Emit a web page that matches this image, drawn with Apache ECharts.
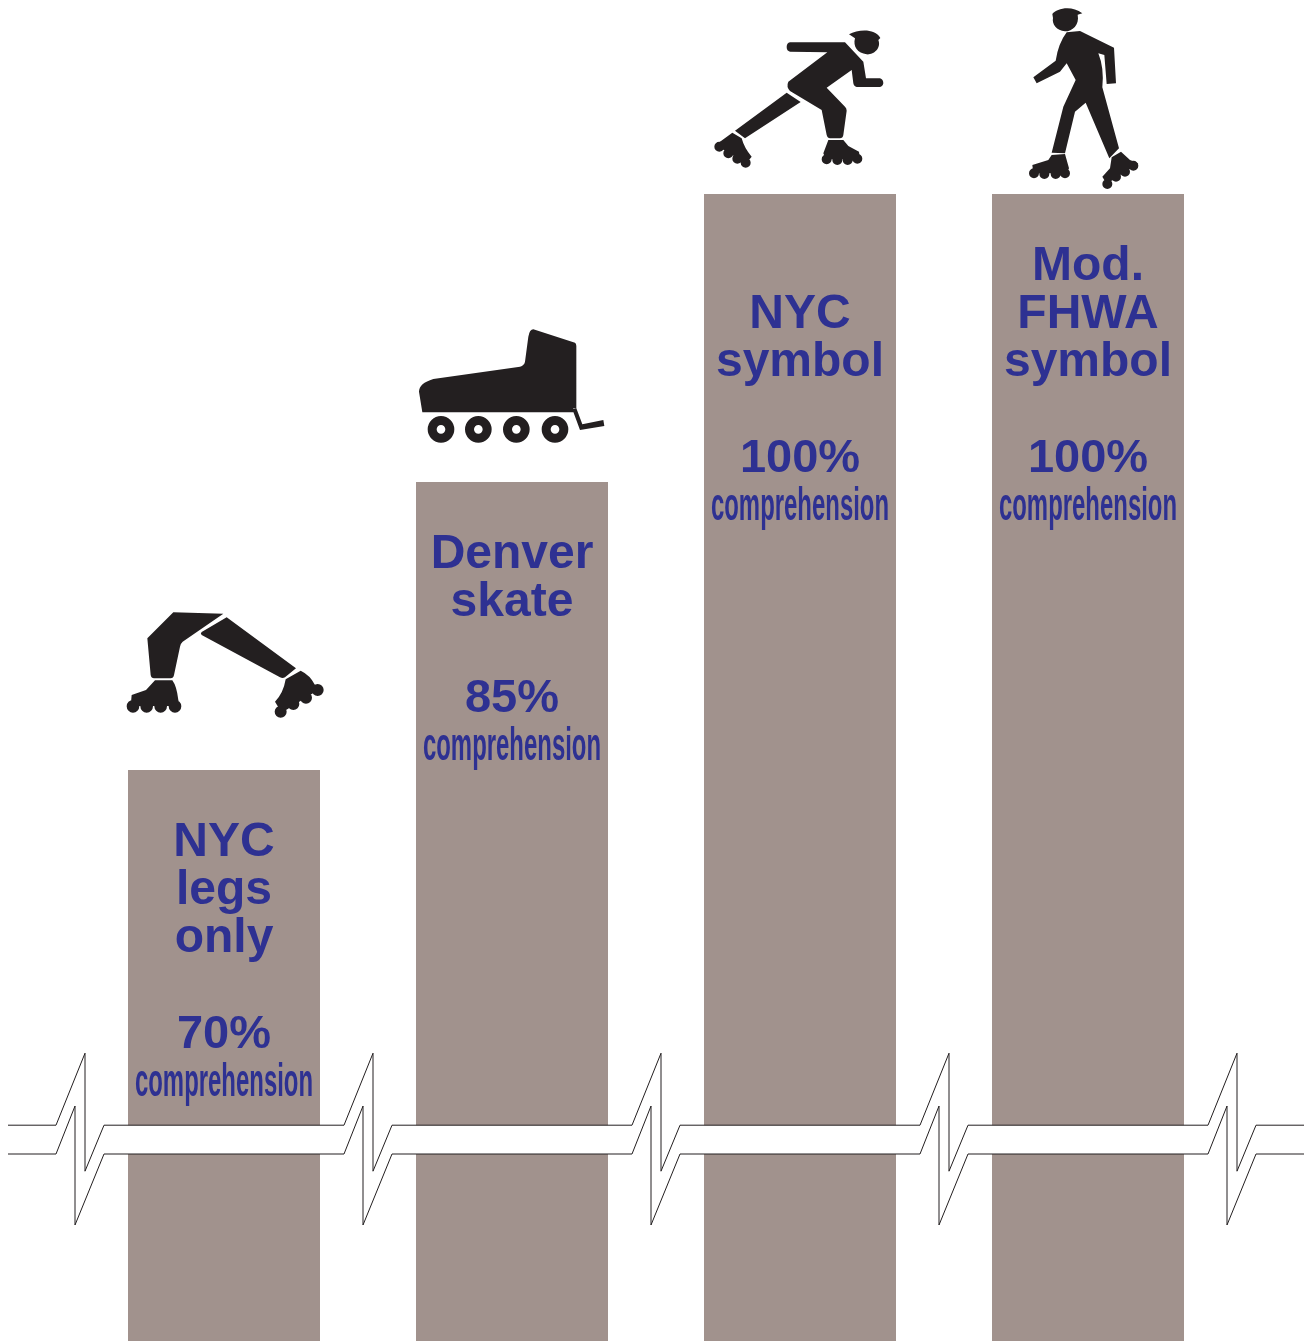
<!DOCTYPE html>
<html>
<head>
<meta charset="utf-8">
<style>html,body{margin:0;padding:0;background:#fff}#c{width:1307px;height:1341px}</style>
<script src="https://cdn.jsdelivr.net/npm/echarts@6/dist/echarts.min.js"></script>
</head>
<body>
<div id="c"></div>
<script>
// ---- data ----
const categories = ["NYC legs only", "Denver skate", "NYC symbol", "Mod. FHWA symbol"];
const comprehension = [70, 85, 100, 100];
const titleLines = [
  ["NYC", "legs", "only", ""],
  ["Denver", "skate", ""],
  ["", "NYC", "symbol", ""],
  ["Mod.", "FHWA", "symbol", ""]
];
const unitLabel = "comprehension";
const breakSlots = [0, 1, 2, 3, 4];
const breakBandTop = 51.5;
const breakBandBottom = 50;

// ---- helpers ----
const c = (x, y, r) => `M${x - r},${y}A${r},${r} 0 1 1 ${x + r},${y}A${r},${r} 0 1 1 ${x - r},${y}Z`;
const hole = (x, y, r) => `M${x - r},${y}A${r},${r} 0 1 0 ${x + r},${y}A${r},${r} 0 1 0 ${x - r},${y}Z`;
const wheels = (pts, r) => pts.map(p => c(p[0], p[1], r)).join('');

// ---- pictograms (traced at 3x, origin ox/oy) ----
const icons = [
  { ox: 110, oy: 600, d:
    "M190,37L340,41L218,125Q212,130 210,140L192,225Q190,235 182,235L132,235Q124,235 122,225L112,115Z" +
    "M350,52L558,205L525,232Q518,236 510,232L275,105Q270,100 275,96Z" +
    "M135,241L187,241Q200,258 205,300L210,318L62,318L65,285L108,270Z" +
    wheels([[69, 319], [110, 319], [152, 319], [195, 319]], 19) +
    "M572,212Q600,225 615,255L628,268L515,338L495,305Q520,280 527,238Z" +
    wheels([[623, 270], [588, 293], [550, 312], [512, 335]], 18) },
  { ox: 405, oy: 320, d:
    "M385,28L510,68Q514,70 514,78L514,265L505,265L505,277L52,277L42,215Q42,190 85,177L345,140Q358,136 360,125L370,50Q374,28 385,28Z" +
    "M502,268L514,265L532,313L595,300L598,318L525,330Z" +
    [108, 220, 334, 450].map(x => c(x, 328, 40) + hole(x, 328, 13)).join('') },
  { ox: 705, oy: 20, d:
    "M432,43C460,28 510,25 526,54L520,60C530,85 505,105 485,103C458,100 443,80 450,55Z" +
    "M255,67L420,67L475,125L483,175L525,175Q535,178 535,190Q533,200 525,201L455,201Q447,200 445,190L440,150L365,203L420,260Q425,265 425,272L415,345Q413,355 405,355L375,355Q368,355 365,345L350,270L255,213Q243,200 250,185L367,97L255,95Q245,93 245,81Q245,69 255,67Z" +
    "M245,218L287,246L120,355L90,332Z" +
    "M82,338L110,355Q118,385 140,410L124,430L40,380L45,365Z" +
    wheels([[43, 380], [70, 400], [97, 416], [122, 428]], 15) +
    "M370,360L415,360L430,378L462,395L465,418L362,418L355,400Z" +
    wheels([[365, 418], [397, 420], [428, 420], [457, 416]], 15) },
  { ox: 1015, oy: 0, d:
    "M112,42C125,25 170,15 202,40L188,44C194,75 172,94 150,94C125,92 110,72 114,54Z" +
    "M155,97L195,93L297,143L303,250L275,252L268,165L250,160Q268,205 262,262L312,445L283,475L212,308L180,335L150,460L110,458L145,320L182,240L155,190L135,215L65,250L55,232L122,182Q130,130 155,97Z" +
    "M110,465L150,462L162,505L155,520L55,520L52,495L100,480Z" +
    wheels([[57, 520], [88, 522], [122, 522], [150, 520]], 15) +
    "M290,472L318,455L345,480L370,490L358,497L275,552L262,530L285,505Z" +
    wheels([[355, 497], [330, 515], [303, 530], [277, 552]], 15) }
];

// ---- layout ----
const G = { left: 80, top: 2, width: 1152, height: 1339.2, outerBoundsMode: 'none' };
const yMin = 40.25, yMax = 110;
const pxPerUnit = G.height / (yMax - yMin);
const pitch = G.width / categories.length;
const anchorX = i => G.left + pitch * (i + 0.5);
const anchorY = v => G.top + (yMax - v) * pxPerUnit;

const iconData = icons.map((ic, i) => {
  const r = echarts.graphic.makePath(ic.d, {}, null).getBoundingRect();
  const w = r.width / 3, h = r.height / 3;
  const cx = ic.ox + (r.x / 3) + w / 2, cy = ic.oy + (r.y / 3) + h / 2;
  return {
    value: [i, comprehension[i]],
    symbol: 'path://' + ic.d,
    symbolSize: [w, h],
    symbolOffset: [cx - anchorX(i), cy - anchorY(comprehension[i])]
  };
});

// text rows
const textRows = [];
categories.forEach((cat, i) => {
  const n = titleLines[i].length;
  titleLines[i].forEach((t, k) => { if (t) textRows.push({ i, k, t, size: 48 }); });
  textRows.push({ i, k: n, t: comprehension[i] + '%', size: 47 });
  textRows.push({ i, k: n + 1, t: unitLabel, size: 46, squeeze: 0.52 });
});

const TEXT = '#2e3192', BAR = '#a1928d', INK = '#231f20';

const option = {
  animation: false,
  backgroundColor: '#fff',
  grid: G,
  xAxis: [
    { type: 'category', data: categories, show: false },
    { type: 'value', min: 0, max: 4, show: false }
  ],
  yAxis: { type: 'value', min: yMin, max: yMax, show: false },
  series: [
    {
      type: 'bar', data: comprehension, barWidth: 192, silent: true,
      itemStyle: { color: BAR }, z: 1
    },
    {
      type: 'custom', xAxisIndex: 1, z: 2, silent: true, clip: false,
      data: breakSlots,
      renderItem(params, api) {
        const slot = api.value(0);
        const x = api.coord([slot, breakBandTop])[0];
        const top = api.coord([slot, breakBandTop])[1];
        const bot = api.coord([slot, breakBandBottom])[1];
        const last = slot === breakSlots[breakSlots.length - 1];
        const first = slot === breakSlots[0];
        const endX = last ? x + 72 : x + 264;
        const line = pts => ({
          type: 'polyline', shape: { points: pts },
          style: { fill: null, stroke: INK, lineWidth: 1 }
        });
        const topPts = [[x - 24, top], [x + 5, top - 72], [x + 5, top + 46], [x + 24, top], [endX, top]];
        const botPts = [[x - 24, bot], [x - 5, bot - 48], [x - 5, bot + 71], [x + 24, bot], [endX, bot]];
        if (first) { topPts.unshift([x - 72, top]); botPts.unshift([x - 72, bot]); }
        const kids = [];
        if (!last) kids.push({ type: 'rect', shape: { x: x + 24, y: top, width: 240, height: bot - top }, style: { fill: '#fff' } });
        kids.push(line(topPts), line(botPts));
        return { type: 'group', children: kids };
      }
    },
    {
      type: 'custom', z: 3, silent: true, clip: false,
      data: textRows.map(r => [r.i, comprehension[r.i]]),
      encode: { x: 0, y: 1 },
      renderItem(params, api) {
        const r = textRows[params.dataIndex];
        const p = api.coord([api.value(0), api.value(1)]);
        return {
          type: 'text',
          x: p[0],
          y: p[1] + 70 + 48 * r.k + 3,
          scaleX: r.squeeze || 1,
          style: {
            text: r.t,
            fill: TEXT,
            textAlign: 'center',
            textVerticalAlign: 'middle',
            fontFamily: '"Liberation Sans"',
            fontWeight: 'bold',
            fontSize: r.size
          }
        };
      }
    },
    {
      type: 'scatter', z: 4, silent: true, clip: false,
      itemStyle: { color: INK, opacity: 1 },
      data: iconData
    }
  ]
};

const chart = echarts.init(document.getElementById('c'), null, { renderer: 'canvas', width: 1307, height: 1341 });
chart.setOption(option);
</script>
</body>
</html>
